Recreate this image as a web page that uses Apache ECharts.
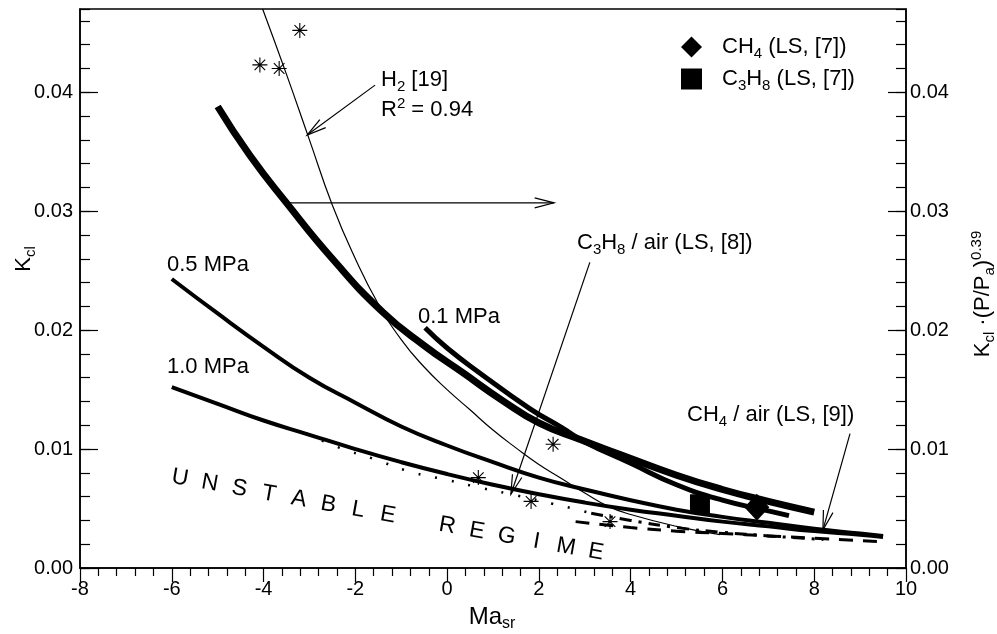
<!DOCTYPE html>
<html><head><meta charset="utf-8">
<script src="https://cdn.jsdelivr.net/npm/echarts@6/dist/echarts.min.js"></script>
<style>html,body{margin:0;padding:0;background:#fff}#c{width:997px;height:634px}</style>
</head><body><div id="c"></div>
<script>
// ---- data ----
const xTickValues = [-8, -6, -4, -2, 0, 2, 4, 6, 8, 10];
const yTickValues = [0.00, 0.01, 0.02, 0.03, 0.04];

// normalised curve Kcl*(P/Pa)^0.39 (right axis)
const normX = [-5.0, -4.3, -3.5, -2.5, -1.4, -0.5, 0.35, 1.2, 2.0, 2.9, 3.8, 5.0, 6.0, 7.0, 8.0];
const normY = [0.0388, 0.0347, 0.0307, 0.0260, 0.0215, 0.0187, 0.0164, 0.0141, 0.0122, 0.0108, 0.0095, 0.0078, 0.0066, 0.0056, 0.0047];
// 0.1 MPa
const p01X = [-0.48, 0.0, 0.71, 1.8, 2.5, 3.0, 4.0, 5.0, 6.0, 7.0, 7.45];
const p01Y = [0.0202, 0.0185, 0.0164, 0.0134, 0.0118, 0.0106, 0.0088, 0.0070, 0.0057, 0.0048, 0.0044];
// 0.5 MPa
const p05X = [-6, -5, -4, -3, -2, -1, 0, 1, 2, 3, 4, 5, 6, 7, 8, 9, 9.5];
const p05Y = [0.0243, 0.0214, 0.0186, 0.0160, 0.0139, 0.0119, 0.0103, 0.0089, 0.0076, 0.0066, 0.0057, 0.0049, 0.0043, 0.0038, 0.0033, 0.0029, 0.0027];
// 1.0 MPa
const p10X = [-6, -5, -4, -3, -2, -1, 0, 1, 2, 3, 4, 5, 6, 7, 8, 9, 9.5];
const p10Y = [0.0152, 0.0138, 0.0124, 0.0112, 0.0100, 0.0089, 0.0079, 0.0070, 0.0062, 0.0055, 0.0049, 0.0044, 0.0039, 0.0035, 0.0031, 0.0028, 0.0026];
// H2 fit [19]
const h2X = [-4.02, -3.5, -3.0, -2.5, -2.0, -1.5, -1.0, -0.5, 0, 0.5, 1.0, 1.5, 2.0, 2.5, 3.0, 3.5, 4.0, 5.0, 5.95];
const h2Y = [0.0470, 0.0415, 0.0360, 0.0305, 0.0260, 0.0222, 0.0192, 0.0169, 0.0150, 0.0133, 0.0116, 0.0101, 0.0087, 0.0075, 0.0063, 0.0052, 0.0045, 0.0035, 0.0028];
// H2 measurements
const starX = [-4.08, -3.66, -3.21, 0.68, 1.83, 2.31, 3.55];
const starY = [0.0423, 0.0420, 0.0452, 0.0076, 0.0056, 0.0104, 0.0039];
// C3H8/air LS [8] (dotted part and dash-dot part)
const c3DotX = [-3.06, -2.34, -1.62, -0.81, 0.0, 0.78, 1.52, 2.3, 2.74, 3.14];
const c3DotY = [0.0113, 0.0101, 0.0092, 0.0081, 0.0074, 0.0067, 0.0061, 0.0054, 0.0050, 0.0046];
const c3DashDotX = [3.14, 4.0, 5.0, 6.0, 7.0, 8.2];
const c3DashDotY = [0.0046, 0.0040, 0.0034, 0.0030, 0.0027, 0.0024];
// CH4/air LS [9]
const ch4DashX = [2.8, 4.0, 5.0, 6.0, 7.0, 8.0, 9.5];
const ch4DashY = [0.0039, 0.0034, 0.0031, 0.0029, 0.0027, 0.0025, 0.0022];
// LS [7] points
const ch4LsX = [6.75];
const ch4LsY = [0.0051];
const c3h8LsX = [5.51];
const c3h8LsY = [0.0054];
// annotation arrows [x1, y1, x2, y2]
const arrows = [
  [-1.57, 0.0406, -3.05, 0.0364],
  [-3.5, 0.0307, 2.33, 0.0307],
  [3.11, 0.0257, 1.39, 0.0062],
  [8.78, 0.0113, 8.19, 0.0032]
];

const zip = (xs, ys) => xs.map((x, i) => [x, ys[i]]);

const FONT = '"Liberation Sans", Arial, sans-serif';
const chart = echarts.init(document.getElementById('c'), null, {renderer: 'canvas'});

const lineSeries = (name, xs, ys, width, type) => ({
  name, type: 'line', data: zip(xs, ys), smooth: true, symbol: 'none',
  lineStyle: {color: '#000', width, type: type || 'solid', cap: 'butt', opacity: 1}, z: 3, silent: true
});

const starPath = 'path://M0,-10L0,10M-10,0L10,0M-7.07,-7.07L7.07,7.07M-7.07,7.07L7.07,-7.07';

const rich = {
  n: {fontSize: 22, fontFamily: FONT, color: '#000', lineHeight: 28},
  s: {fontSize: 15, fontFamily: FONT, color: '#000', verticalAlign: 'bottom', lineHeight: 18},
  u: {fontSize: 15, fontFamily: FONT, color: '#000', verticalAlign: 'top', lineHeight: 18},
  m: {fontSize: 24, fontFamily: FONT, color: '#000', lineHeight: 30},
  ms: {fontSize: 16, fontFamily: FONT, color: '#000', verticalAlign: 'bottom', lineHeight: 19},
  g: {width: 15}
};

const txt = (x, y, text, extra) => Object.assign({
  type: 'text', x, y, style: {text, rich, fontSize: 22, fontFamily: FONT, fill: '#000', verticalAlign: 'middle', align: 'left'}
}, extra || {});

const unstable = 'UNSTABLE REGIME';
const letters = [];
for (let i = 0; i < unstable.length; i++) {
  const ch = unstable[i];
  if (ch === ' ') continue;
  letters.push({
    type: 'text', x: 180 + i * 29.7, y: 478 + i * 5.3, rotation: -10 * Math.PI / 180,
    style: {text: ch, fontSize: 23, fontFamily: FONT, fill: '#000', align: 'center', verticalAlign: 'middle'}
  });
}

const yMajor = (pos) => ({
  type: 'value', min: 0, max: 0.047, interval: 0.01, position: pos,
  axisLine: {show: true, onZero: false, lineStyle: {color: '#000', width: 1.5}},
  axisTick: {show: true, inside: true, length: 18, lineStyle: {color: '#000', width: 1.2}},
  axisLabel: {show: true, showMaxLabel: false, color: '#000', fontSize: 20, fontFamily: FONT,
    margin: pos === 'left' ? 7 : 4, formatter: v => v.toFixed(2)},
  splitLine: {show: false}
});
const yMinor = (pos) => ({
  type: 'value', min: 0, max: 0.047, interval: 0.002, position: pos,
  axisLine: {show: false, onZero: false},
  axisTick: {show: true, inside: true, length: 10, lineStyle: {color: '#000', width: 1.2}},
  axisLabel: {show: false}, splitLine: {show: false}
});

chart.setOption({
  animation: false,
  backgroundColor: '#fff',
  grid: {left: 80, right: 91, top: 9, bottom: 66, show: true, borderColor: '#000', borderWidth: 1.5, containLabel: false},
  xAxis: {
    type: 'value', min: -8, max: 10, interval: 2,
    axisLine: {onZero: false, lineStyle: {color: '#000', width: 1.5}},
    axisTick: {inside: false, length: 14, lineStyle: {color: '#000', width: 1.2}},
    minorTick: {show: true, splitNumber: 5, length: 8, lineStyle: {color: '#000', width: 1.2}},
    axisLabel: {color: '#000', fontSize: 20, fontFamily: FONT, margin: 11,
      formatter: v => xTickValues.includes(v) ? String(v) : ''},
    splitLine: {show: false}, minorSplitLine: {show: false}
  },
  yAxis: [yMajor('left'), yMinor('left'), yMajor('right'), yMinor('right')],
  legend: {
    orient: 'vertical', left: 676, top: 31, itemGap: 7, itemWidth: 21, itemHeight: 21,
    data: [{name: 'CH4 (LS, [7])', icon: 'diamond'}, {name: 'C3H8 (LS, [7])', icon: 'rect'}],
    textStyle: {color: '#000', fontSize: 22, fontFamily: FONT, rich},
    formatter: n => n === 'CH4 (LS, [7])' ? '{g|}{n|CH}{s|4}{n| (LS, [7])}' : '{g|}{n|C}{s|3}{n|H}{s|8}{n| (LS, [7])}',
    selectedMode: false
  },
  series: [
    lineSeries('norm', normX, normY, 7),
    lineSeries('0.1 MPa', p01X, p01Y, 5),
    lineSeries('0.5 MPa', p05X, p05Y, 4),
    lineSeries('1.0 MPa', p10X, p10Y, 4),
    lineSeries('H2 fit', h2X, h2Y, 1.2),
    lineSeries('C3H8 LS8 dotted', c3DotX, c3DotY, 2.5, [2, 15]),
    lineSeries('C3H8 LS8 dashdot', c3DashDotX, c3DashDotY, 3, [12, 7, 3, 7]),
    lineSeries('CH4 LS9', ch4DashX, ch4DashY, 3, [14, 10]),
    {name: 'H2 data', type: 'scatter', data: zip(starX, starY), symbol: starPath, symbolSize: 15,
      itemStyle: {color: 'transparent', borderColor: '#000', borderWidth: 1.1, opacity: 1}, z: 4, silent: true},
    {name: 'CH4 (LS, [7])', type: 'scatter', data: zip(ch4LsX, ch4LsY), symbol: 'diamond', symbolSize: [25, 27],
      itemStyle: {color: '#000', opacity: 1}, z: 5, silent: true},
    {name: 'C3H8 (LS, [7])', type: 'scatter', data: zip(c3h8LsX, c3h8LsY), symbol: 'rect', symbolSize: [20, 19],
      itemStyle: {color: '#000', opacity: 1}, z: 5, silent: true},
    {name: 'arrows', type: 'custom', data: arrows, silent: true, z: 6,
      renderItem: (params, api) => {
        const p1 = api.coord([api.value(0), api.value(1)]);
        const p2 = api.coord([api.value(2), api.value(3)]);
        const ang = Math.atan2(p2[1] - p1[1], p2[0] - p1[0]);
        const L = 20, a = 0.25;
        const h1 = [p2[0] - L * Math.cos(ang - a), p2[1] - L * Math.sin(ang - a)];
        const h2 = [p2[0] - L * Math.cos(ang + a), p2[1] - L * Math.sin(ang + a)];
        return {type: 'group', children: [
          {type: 'line', shape: {x1: p1[0], y1: p1[1], x2: p2[0], y2: p2[1]}, style: {stroke: '#000', lineWidth: 1.2}},
          {type: 'polyline', shape: {points: [h1, p2, h2]}, style: {stroke: '#000', lineWidth: 1.2, fill: null}}
        ]};
      }}
  ],
  graphic: [
    txt(167, 265, '0.5 MPa'),
    txt(167, 367, '1.0 MPa'),
    txt(418, 317, '0.1 MPa'),
    txt(381, 80, '{n|H}{s|2}{n| [19]}'),
    txt(381, 110, '{n|R}{u|2}{n| = 0.94}'),
    txt(577, 243, '{n|C}{s|3}{n|H}{s|8}{n| / air (LS, [8])}'),
    txt(687, 415, '{n|CH}{s|4}{n| / air (LS, [9])}'),
    {type: 'text', x: 492, y: 617, style: {text: '{m|Ma}{ms|sr}', rich, align: 'center', verticalAlign: 'middle'}},
    {type: 'text', x: 24, y: 259, rotation: Math.PI / 2,
      style: {text: '{n|K}{s|cl}', rich, align: 'center', verticalAlign: 'middle'}},
    {type: 'text', x: 983, y: 294, rotation: Math.PI / 2,
      style: {text: '{n|K}{s|cl}{n| ·(P/P}{s|a}{n|)}{u|0.39}', rich, align: 'center', verticalAlign: 'middle'}},
    ...letters
  ]
});
</script>
</body></html>
